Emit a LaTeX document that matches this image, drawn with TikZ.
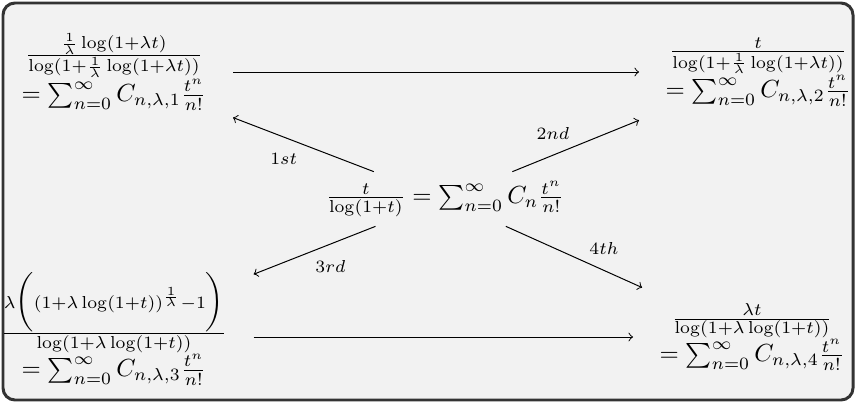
\documentclass[tikz,border=0pt]{standalone}
\usepackage{amsmath}
\usepackage{amssymb}

\begin{document}
\begin{tikzpicture}[x=0.0142cm, y=-0.0142cm,
  formula/.style={align=center, inner xsep=0.37cm, inner ysep=0.22cm},
  step label/.style={font=\scriptsize},
  frame/.style={draw=black!80, line width=1.2pt, fill=gray!10, rounded corners=0.17cm}]
\useasboundingbox (0,0) rectangle (856,403);
% background panel
\draw[frame] (3,3) rectangle (853,400);
% generating functions
\node[formula, inner ysep=0.13cm] (gen) at (445,199) {$\frac{t}{\log(1+t)}=\sum_{n=0}^{\infty}C_n\frac{t^n}{n!}$};
\node[formula] (gen1) at (114,72) {$\frac{\frac{1}{\lambda}\log(1+\lambda t)}{\log(1+\frac{1}{\lambda}\log(1+\lambda t))}$\\[-0.5pt]$=\sum_{n=0}^{\infty}C_{n,\lambda,1}\frac{t^n}{n!}$};
\node[formula] (gen2) at (758,72) {$\frac{t}{\log(1+\frac{1}{\lambda}\log(1+\lambda t))}$\\[-0.5pt]$=\sum_{n=0}^{\infty}C_{n,\lambda,2}\frac{t^n}{n!}$};
\node[formula] (gen3) at (114,329) {$\frac{\lambda\bigg((1+\lambda\log(1+t))^{\frac{1}{\lambda}}-1\bigg)}{\log(1+\lambda\log(1+t))}$\\[-0.5pt]$=\sum_{n=0}^{\infty}C_{n,\lambda,3}\frac{t^n}{n!}$};
\node[formula] (gen4) at (752,337) {$\frac{\lambda t}{\log(1+\lambda\log(1+t))}$\\[-0.5pt]$=\sum_{n=0}^{\infty}C_{n,\lambda,4}\frac{t^n}{n!}$};
% arrows
\draw[->] (gen1.east) -- (gen1.east -| gen2.west);
\draw[->] (gen3.east |- gen4.west) -- (gen4.west);
\draw[->] (gen) -- node[step label, below=3pt, pos=0.64] {$1st$} (gen1);
\draw[->] (gen) -- node[step label, above=3pt, pos=0.32] {$2nd$} (gen2);
\draw[->] (gen) -- node[step label, below=3pt, pos=0.37] {$3rd$} (gen3);
\draw[->] (gen) -- node[step label, above=3pt, pos=0.72] {$4th$} (gen4);
\end{tikzpicture}
\end{document}
